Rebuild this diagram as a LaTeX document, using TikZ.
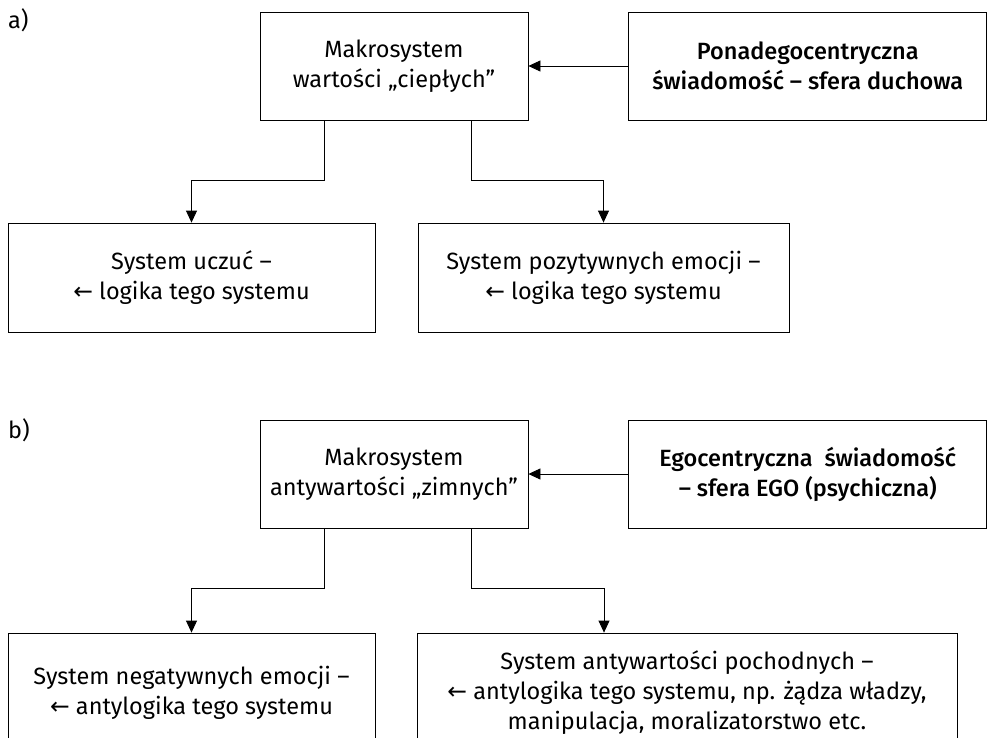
\documentclass[tikz,border=0pt]{standalone}
\usepackage{fontspec}
\setmainfont{Fira Sans}
\newfontfamily\medfont{Fira Sans Medium}
\newfontfamily\arrowfont{DejaVu Sans}
\usetikzlibrary{arrows.meta, positioning}
\newcommand{\larr}{{\arrowfont ←}}

\begin{document}
\begin{tikzpicture}[
    x=1pt, y=-1pt,
    node distance=100pt,
    every node/.style={font=\fontsize{23.5}{30}\selectfont},
    macro/.style={rectangle, draw, line width=0.8pt, minimum width=268pt, minimum height=108pt, align=center, inner sep=0pt},
    source/.style={macro, minimum width=358pt, font=\fontsize{23.5}{30}\selectfont\medfont},
    subsys/.style={macro, minimum width=367pt, minimum height=109pt},
    arrow/.style={-{Triangle[length=12pt, width=11pt]}, line width=0.8pt}
]
\useasboundingbox (0,0) rectangle (987,738);
\clip (0,0) rectangle (987,738);
% a)
\node[anchor=north west, inner sep=0pt] (labA) at (8,8) {a)};
\node[macro] (makroA) at (394,66) {Makrosystem\\wartości „ciepłych”};
\node[source, right=of makroA] (duchA) {Ponadegocentryczna\\świadomość – sfera duchowa};
\node[subsys] (uczA) at (191.5,277.5) {System uczuć –\\\larr{} logika tego systemu};
\node[subsys, minimum width=371pt] (emoA) at (603.5,277.5) {System pozytywnych emocji –\\\larr{} logika tego systemu};
\draw[arrow] (duchA) -- (makroA);
\draw[arrow] ([xshift=-70pt]makroA.south) -- ++(0,60) -| (uczA.north);
\draw[arrow] ([xshift=77pt]makroA.south) -- ++(0,60) -| (emoA.north);
% b)
\node[anchor=north west, inner sep=0pt] (labB) at (8,418) {b)};
\node[macro] (makroB) at (394,474) {Makrosystem\\antywartości „zimnych”};
\node[source, right=of makroB] (egoB) {Egocentryczna \ świadomość\\– sfera EGO (psychiczna)};
\node[subsys, minimum height=120pt] (emoB) at (191.5,693) {System negatywnych emocji –\\\larr{} antylogika tego systemu};
\node[subsys, minimum width=540pt, minimum height=120pt] (pochB) at (687,693) {System antywartości pochodnych –\\\larr{} antylogika tego systemu, np. żądza władzy,\\manipulacja, moralizatorstwo etc.};
\draw[arrow] (egoB) -- (makroB);
\draw[arrow] ([xshift=-70pt]makroB.south) -- ++(0,60) -| (emoB.north);
\draw[arrow] ([xshift=77pt]makroB.south) -- ++(0,60) -| ([xshift=-83pt]pochB.north);
\end{tikzpicture}
\end{document}
